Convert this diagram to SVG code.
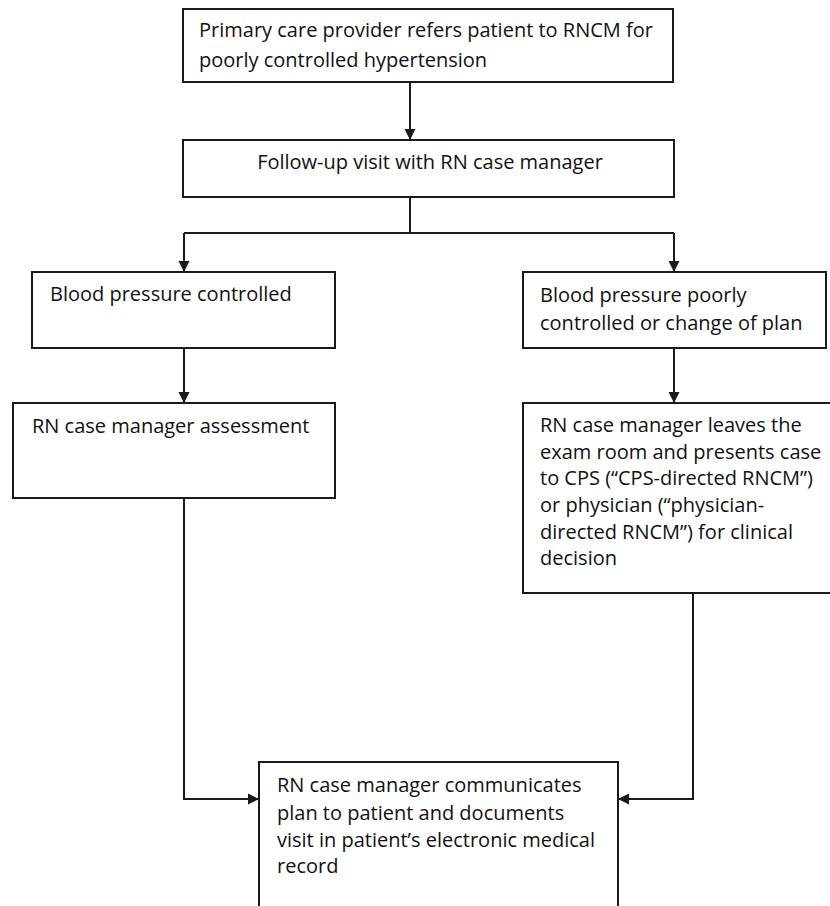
<svg xmlns="http://www.w3.org/2000/svg" width="830" height="906" viewBox="0 0 830 906">
<defs>
<marker id="ah" markerWidth="12" markerHeight="12" refX="11" refY="6" orient="auto" markerUnits="userSpaceOnUse">
<path d="M0,0.5 L11,6 L0,11.5 Z" fill="#1a1a1a"/>
</marker>
<style>
rect.box{fill:#fff;stroke:#1a1a1a;stroke-width:2}
text{font-family:"Open Sans","Liberation Sans",sans-serif;font-size:20px;fill:#111}
.conn path{fill:none;stroke:#1a1a1a;stroke-width:2}
</style>
</defs>
<rect width="830" height="906" fill="#fff"/>
<g class="conn" id="connectors">
<path d="M410,82 V140" marker-end="url(#ah)"/>
<path d="M410,197 V233"/>
<path d="M184,233 H674"/>
<path d="M184,233 V272" marker-end="url(#ah)"/>
<path d="M674,233 V272" marker-end="url(#ah)"/>
<path d="M184,348 V403" marker-end="url(#ah)"/>
<path d="M674,348 V403" marker-end="url(#ah)"/>
<path d="M184,498 V799 H259" marker-end="url(#ah)"/>
<path d="M693,593 V799 H618" marker-end="url(#ah)"/>
</g>
<g id="n1">
<rect class="box" x="183" y="9" width="490" height="73"/>
<text x="199" y="37">Primary care provider refers patient to RNCM for</text>
<text x="199" y="67">poorly controlled hypertension</text>
</g>
<g id="n2">
<rect class="box" x="183" y="140" width="491" height="57"/>
<text x="430" y="169" text-anchor="middle">Follow-up visit with RN case manager</text>
</g>
<g id="n3">
<rect class="box" x="32" y="272" width="303" height="76"/>
<text x="50" y="301">Blood pressure controlled</text>
</g>
<g id="n4">
<rect class="box" x="523" y="272" width="303" height="76"/>
<text x="540" y="302">Blood pressure poorly</text>
<text x="540" y="330">controlled or change of plan</text>
</g>
<g id="n5">
<rect class="box" x="13" y="403" width="322" height="95"/>
<text x="32" y="433">RN case manager assessment</text>
</g>
<g id="n6">
<rect class="box" x="523" y="403" width="320" height="190"/>
<text x="540" y="432">RN case manager leaves the</text>
<text x="540" y="459">exam room and presents case</text>
<text x="540" y="485">to CPS (“CPS-directed RNCM”)</text>
<text x="540" y="512">or physician (“physician-</text>
<text x="540" y="539">directed RNCM”) for clinical</text>
<text x="540" y="565">decision</text>
</g>
<g id="n7">
<rect class="box" x="259" y="762" width="359" height="160"/>
<text x="277" y="792">RN case manager communicates</text>
<text x="277" y="820">plan to patient and documents</text>
<text x="277" y="847">visit in patient’s electronic medical</text>
<text x="277" y="873">record</text>
</g>
</svg>
